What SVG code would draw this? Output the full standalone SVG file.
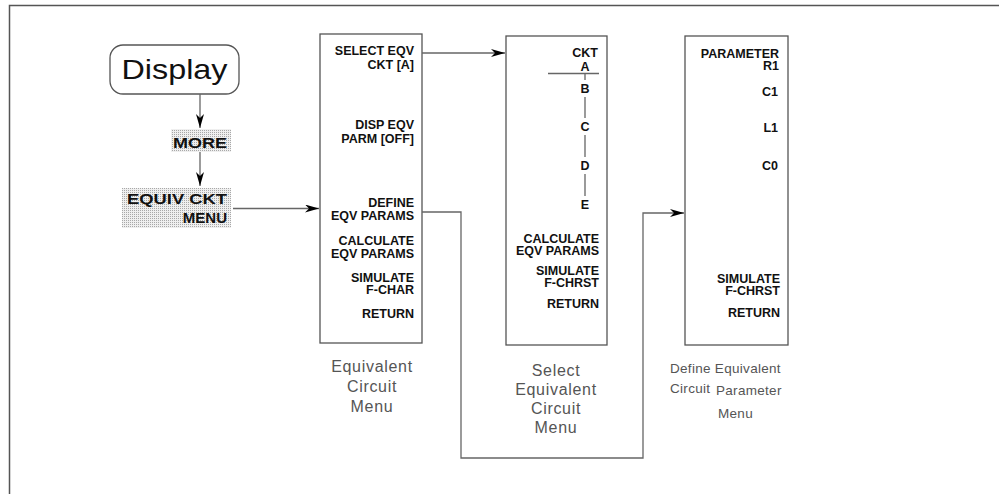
<svg xmlns="http://www.w3.org/2000/svg" width="999" height="494" viewBox="0 0 999 494">
<defs>
<pattern id="dots" width="2" height="2" patternUnits="userSpaceOnUse">
<rect width="2" height="2" fill="#efefef"/>
<rect width="1" height="1" fill="#a8a8a8"/>
</pattern>
<marker id="arr" viewBox="0 0 14 8" refX="14" refY="4" markerWidth="14" markerHeight="8" markerUnits="userSpaceOnUse" orient="auto">
<path d="M0,0 L14,4 L0,8 L4,4 z" fill="#000"/>
</marker>
<style>
.box{fill:#fff;stroke:#555;stroke-width:1.3}
.k{font-family:"Liberation Sans",Arial,sans-serif;font-weight:bold;font-size:12.5px;fill:#111;text-anchor:end}
.c{text-anchor:middle}
.big{font-size:15px}
.lab{font-family:"Liberation Sans",Arial,sans-serif;font-size:16px;fill:#555;text-anchor:middle;letter-spacing:0.7px}
.sm{font-size:13.5px;letter-spacing:0.3px;text-anchor:start}
.ln{fill:none;stroke:#666;stroke-width:1.3}
</style>
</defs>
<rect width="999" height="494" fill="#fff"/>
<g id="frame"><path d="M9.5,494 V5.5 H999" fill="none" stroke="#555" stroke-width="1.5"/></g>

<g id="display">
<rect x="110" y="45" width="129" height="49" rx="13" class="box"/>
<text x="174.5" y="79" text-anchor="middle" font-family="'Liberation Sans',Arial,sans-serif" font-size="28" fill="#111" textLength="106" lengthAdjust="spacingAndGlyphs">Display</text>
</g>
<g id="more">
<rect x="171" y="129" width="60" height="23" fill="url(#dots)"/>
<text x="227" y="148" class="k big" textLength="54" lengthAdjust="spacingAndGlyphs">MORE</text>
</g>
<g id="equiv">
<rect x="122" y="188" width="109" height="40" fill="url(#dots)"/>
<text x="227" y="204" class="k big" textLength="100" lengthAdjust="spacingAndGlyphs">EQUIV CKT</text>
<text x="227" y="223" class="k big">MENU</text>
</g>

<g id="eqmenu">
<rect x="320" y="34" width="102" height="309" class="box"/>
<text x="414" y="55" class="k">SELECT EQV</text>
<text x="414" y="69" class="k">CKT [A]</text>
<text x="414" y="129" class="k">DISP EQV</text>
<text x="414" y="143" class="k">PARM [OFF]</text>
<text x="414" y="207" class="k">DEFINE</text>
<text x="414" y="220" class="k">EQV PARAMS</text>
<text x="414" y="245" class="k">CALCULATE</text>
<text x="414" y="258" class="k">EQV PARAMS</text>
<text x="414" y="282" class="k">SIMULATE</text>
<text x="414" y="294" class="k">F-CHAR</text>
<text x="414" y="318" class="k">RETURN</text>
<text x="372" y="372" class="lab">Equivalent</text>
<text x="372" y="392" class="lab">Circuit</text>
<text x="372" y="412" class="lab">Menu</text>
</g>

<g id="selmenu">
<rect x="506" y="36" width="101" height="309" class="box"/>
<text x="598" y="57" class="k">CKT</text>
<text x="585" y="71" class="k c">A</text>
<path d="M548,73.5 H599 M585,73.5 V80 M585,97 V118 M585,135 V157 M585,174 V196" class="ln" stroke="#777"/>
<text x="585" y="93" class="k c">B</text>
<text x="585" y="131" class="k c">C</text>
<text x="585" y="170" class="k c">D</text>
<text x="585" y="209" class="k c">E</text>
<text x="599" y="243" class="k">CALCULATE</text>
<text x="599" y="255" class="k">EQV PARAMS</text>
<text x="599" y="275" class="k">SIMULATE</text>
<text x="599" y="287" class="k">F-CHRST</text>
<text x="599" y="308" class="k">RETURN</text>
<text x="556" y="376" class="lab">Select</text>
<text x="556" y="395" class="lab">Equivalent</text>
<text x="556" y="414" class="lab">Circuit</text>
<text x="556" y="433" class="lab">Menu</text>
</g>

<g id="defmenu">
<rect x="685" y="36" width="103" height="309" class="box"/>
<text x="779" y="58" class="k">PARAMETER</text>
<text x="779" y="70" class="k">R1</text>
<text x="778" y="96" class="k">C1</text>
<text x="778" y="132" class="k">L1</text>
<text x="778" y="170" class="k">C0</text>
<text x="780" y="283" class="k">SIMULATE</text>
<text x="780" y="295" class="k">F-CHRST</text>
<text x="780" y="317" class="k">RETURN</text>
<text x="670" y="373" class="lab sm">Define Equivalent</text>
<text x="670" y="393" class="lab sm">Circuit</text>
<text x="716" y="395" class="lab sm">Parameter</text>
<text x="718" y="418" class="lab sm">Menu</text>
</g>

<g id="connectors">
<path d="M200,94 V128" class="ln" marker-end="url(#arr)"/>
<path d="M200,152 V186" class="ln" marker-end="url(#arr)"/>
<path d="M233,208.5 H319" class="ln" marker-end="url(#arr)"/>
<path d="M422,53 H505" class="ln" marker-end="url(#arr)"/>
<path d="M422,212 H461 V458 H643 V213 H684" class="ln" marker-end="url(#arr)"/>
</g>
</svg>
